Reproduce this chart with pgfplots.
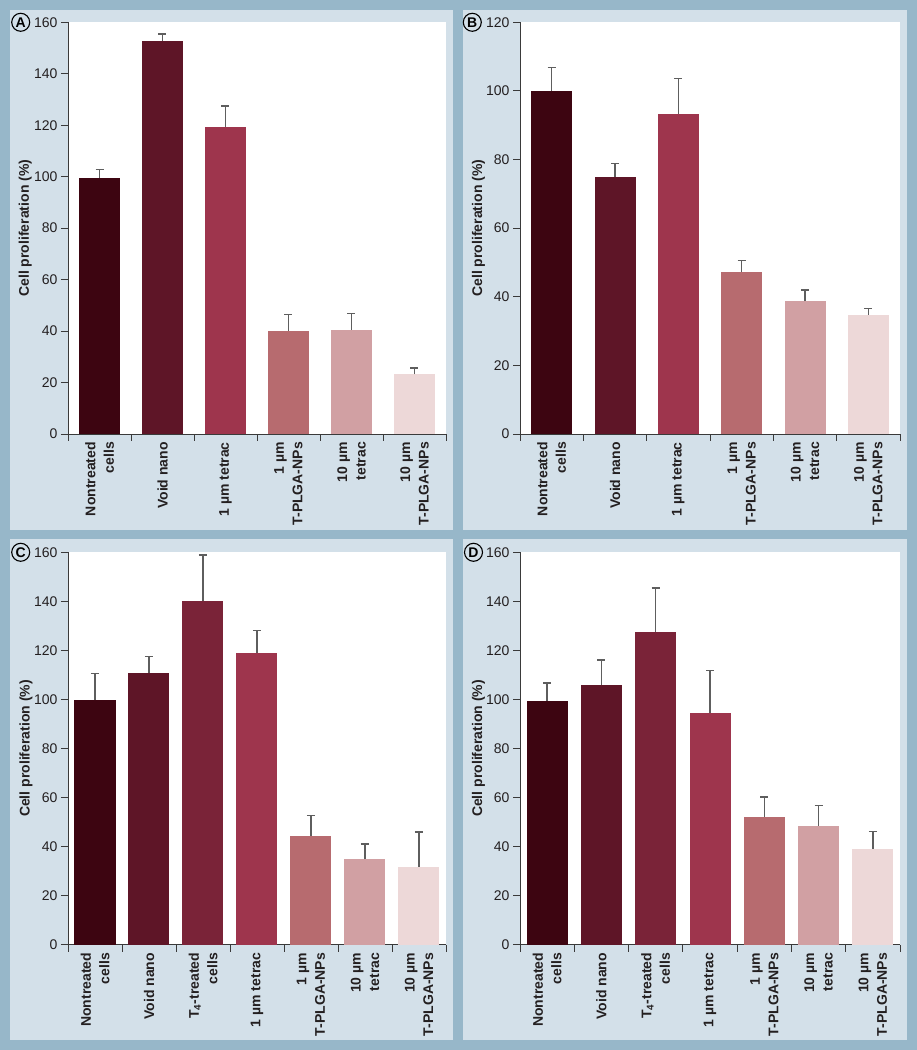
\documentclass[border=0pt]{standalone}
\usepackage{fontspec}
\setmainfont{Liberation Sans}
\usepackage{pgfplots}
\pgfplotsset{compat=1.18}

\definecolor{outerbg}{HTML}{97B7C9}
\definecolor{panelbg}{HTML}{D3E0E9}
\definecolor{axgray}{HTML}{3A3A3A}
\definecolor{errgray}{HTML}{5E5E5E}
\definecolor{txt}{HTML}{231F20}
\definecolor{c1}{HTML}{3D0511}
\definecolor{c2}{HTML}{5E1527}
\definecolor{c3}{HTML}{7A2338}
\definecolor{c4}{HTML}{9E354D}
\definecolor{c5}{HTML}{B76B6F}
\definecolor{c6}{HTML}{D1A0A3}
\definecolor{c7}{HTML}{EDD8D8}

\newcommand{\pbar}[4]{\addplot[ybar, bar width=41pt, bar shift=0pt, fill=#4, draw=none,
  error bars/.cd, y dir=plus, y explicit,
  error bar style={line width=1.3pt, draw=errgray},
  error mark options={rotate=90, line width=1.3pt, draw=errgray, mark size=4pt}]
  coordinates {(#1,#2) +- (0,#3)};}

\pgfplotsset{
  panel/.style={
    scale only axis, anchor=south west,
    axis background/.style={fill=white},
    axis lines=left, axis line style={-, draw=axgray, line width=0.9pt},
    tick align=outside, major tick length=7pt,
    tick style={draw=axgray, line width=0.9pt},
    ymin=0, ytick distance=20,
    x tick label as interval,
    xticklabel style={rotate=90, anchor=east, align=right, inner sep=1pt,
      font=\bfseries\fontsize{14}{18.5}\selectfont, text=txt},
    yticklabel style={font=\fontsize{14}{14}\selectfont, text=txt},
    /pgf/number format/assume math mode=true,
    ylabel={Cell proliferation (\%)},
    ylabel style={anchor=center, font=\bfseries\fontsize{14}{14}\selectfont, text=txt},
  },
  six/.style={xmin=-0.5, xmax=5.5, xtick={-0.5,0.5,...,5.5},
    xticklabels={{Nontreated\\cells},{Void nano},{1 µm tetrac},{1 µm\\T-PLGA-NPs},{10 µm\\tetrac},{10 µm\\T-PLGA-NPs}}},
  seven/.style={xmin=-0.5, xmax=6.5, xtick={-0.5,0.5,...,6.5},
    xticklabels={{Nontreated\\cells},{Void nano},{T\textsubscript{4}-treated\\cells},{1 µm tetrac},{1 µm\\T-PLGA-NPs},{10 µm\\tetrac},{10 µm\\T-PLGA-NPs}}},
}

\begin{document}
\begin{tikzpicture}
\useasboundingbox (0,0) rectangle (917pt,1050pt);
\fill[outerbg] (0,0) rectangle (917pt,1050pt);
\fill[panelbg] (10pt,520pt) rectangle (453pt,1040pt);
\fill[panelbg] (463pt,520pt) rectangle (907pt,1040pt);
\fill[panelbg] (10pt,10pt) rectangle (453pt,511pt);
\fill[panelbg] (463pt,10pt) rectangle (907pt,511pt);

\tikzset{lett/.style={circle, draw=black, line width=1.1pt, minimum size=18pt, inner sep=0pt, font=\bfseries\fontsize{14}{14}\selectfont}}
\node[lett] at (20.7pt,1027.7pt) {A};
\node[lett] at (472.3pt,1027.7pt) {B};
\node[lett] at (20.7pt,497.7pt) {C};
\node[lett] at (473.5pt,497.7pt) {D};

% Panel A
\begin{axis}[panel, six, at={(68pt,616pt)}, width=378pt, height=411.7pt, ymax=160,
  ylabel style={at={(axis description cs:-0.113,0.5)}}]
\pbar{0}{99.5}{3.4}{c1}
\pbar{1}{152.6}{2.8}{c2}
\pbar{2}{119.5}{8.0}{c4}
\pbar{3}{40.1}{6.3}{c5}
\pbar{4}{40.6}{6.3}{c6}
\pbar{5}{23.2}{2.4}{c7}
\end{axis}

% Panel B
\begin{axis}[panel, six, at={(520pt,616pt)}, width=380pt, height=411.7pt, ymax=120,
  ylabel style={at={(axis description cs:-0.109,0.5)}}]
\pbar{0}{100.0}{6.8}{c1}
\pbar{1}{74.9}{4.0}{c2}
\pbar{2}{93.2}{10.4}{c4}
\pbar{3}{47.3}{3.3}{c5}
\pbar{4}{38.7}{3.3}{c6}
\pbar{5}{34.7}{1.8}{c7}
\end{axis}

% Panel C
\begin{axis}[panel, seven, at={(68pt,105.3pt)}, width=378pt, height=392.4pt, ymax=160,
  ylabel style={at={(axis description cs:-0.111,0.5)}}]
\pbar{0}{99.7}{11.0}{c1}
\pbar{1}{110.8}{6.8}{c2}
\pbar{2}{140.2}{18.7}{c3}
\pbar{3}{119.0}{9.1}{c4}
\pbar{4}{44.5}{8.1}{c5}
\pbar{5}{34.8}{6.2}{c6}
\pbar{6}{31.8}{14.1}{c7}
\end{axis}

% Panel D
\begin{axis}[panel, seven, at={(520pt,105.3pt)}, width=380pt, height=392.4pt, ymax=160,
  ylabel style={at={(axis description cs:-0.109,0.5)}}]
\pbar{0}{99.4}{7.3}{c1}
\pbar{1}{105.8}{10.3}{c2}
\pbar{2}{127.5}{18.0}{c3}
\pbar{3}{94.6}{17.1}{c4}
\pbar{4}{52.1}{8.1}{c5}
\pbar{5}{48.6}{8.2}{c6}
\pbar{6}{39.2}{7.0}{c7}
\end{axis}
\end{tikzpicture}
\end{document}
